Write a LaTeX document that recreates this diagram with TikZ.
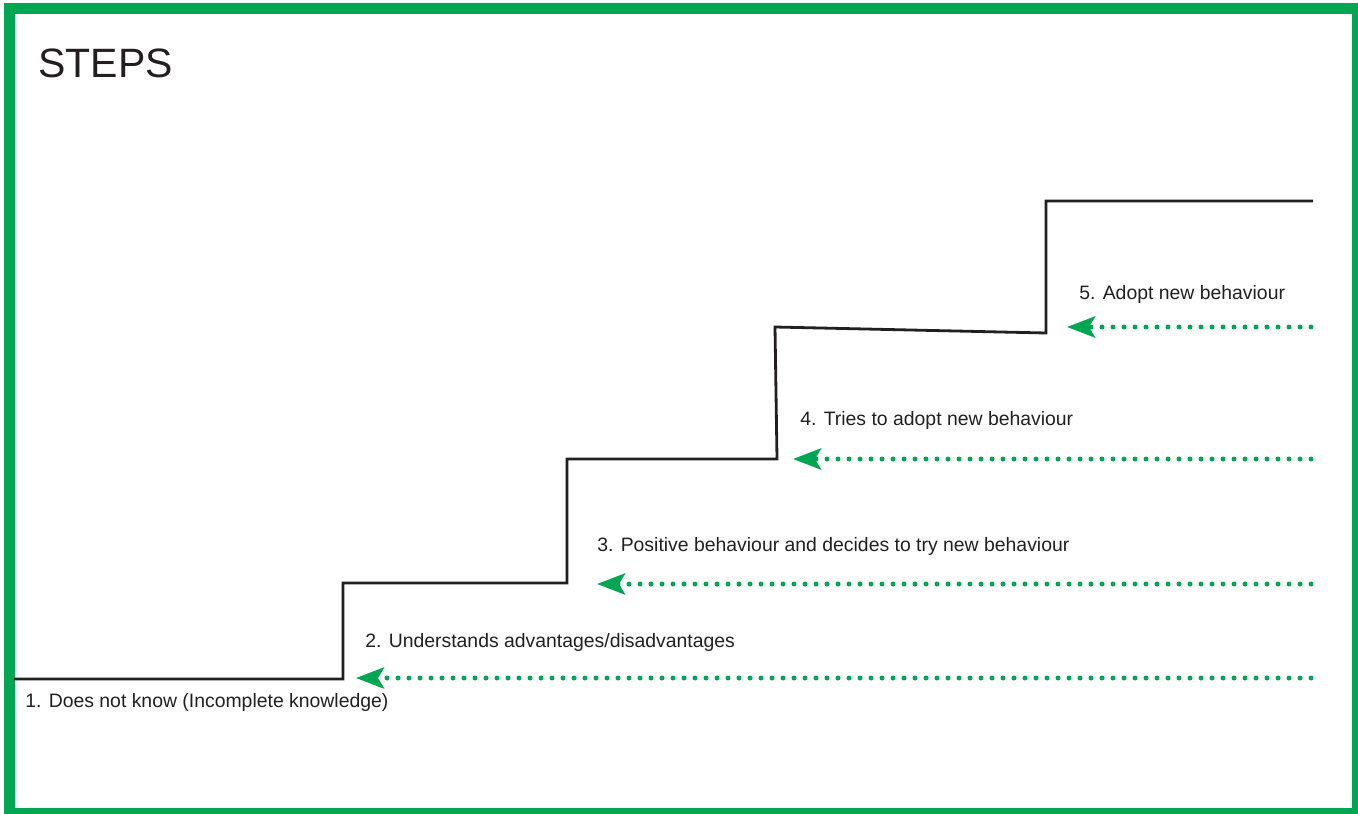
\documentclass[tikz,border=0pt]{standalone}
\usepackage{fontspec}
\setmainfont{Liberation Sans}
\usetikzlibrary{arrows.meta}
\definecolor{stepgreen}{RGB}{0,166,81}
\definecolor{steptext}{RGB}{35,31,32}

\begin{document}
\begin{tikzpicture}[x=0.5pt,y=-0.5pt,
  stairline/.style={steptext, line width=1.4pt},
  dotarrow/.style={stepgreen, line width=2.5pt, line cap=round, dash pattern=on 0pt off 5.5pt,
    -{Stealth[length=14pt,width=10.5pt,inset=3pt]}},
  steplabel/.style={anchor=base west, inner sep=0pt, text=steptext, font=\fontsize{9.7}{12}\selectfont}]
\useasboundingbox (0,0) rectangle (1358,813);
\draw[stepgreen, line width=5.5pt] (9.5,9) rectangle (1357.5,813.5);
\node[anchor=base west, inner sep=0pt, text=steptext, font=\fontsize{20.5}{24}\selectfont] (title) at (38,78) {STEPS};
% the stairs
\draw[stairline] (14,679) -- (343,679) -- (343,583) -- (567,583) -- (567,459) -- (777,459)
  -- (775,327) -- (1046,333) -- (1046,201) -- (1313,201);
% ends of the arrows
\coordinate (end2) at (1311,678);
\coordinate (tip2) at (356,678);
\coordinate (end3) at (1311,584);
\coordinate (tip3) at (597,584);
\coordinate (end4) at (1311,459);
\coordinate (tip4) at (793,459);
\coordinate (end5) at (1311,327);
\coordinate (tip5) at (1067,327);
\draw[dotarrow] (end2) -- (tip2);
\draw[dotarrow] (end3) -- (tip3);
\draw[dotarrow] (end4) -- (tip4);
\draw[dotarrow] (end5) -- (tip5);
% \fill[stepgreen] (1306,327) circle[radius=2.4pt];
\node[steplabel] (lab1) at (25,707) {1. Does not know (Incomplete knowledge)};
\node[steplabel] (lab2) at (365,647) {2. Understands advantages/disadvantages};
\node[steplabel] (lab3) at (597,551) {3. Positive behaviour and decides to try new behaviour};
\node[steplabel] (lab4) at (800,425) {4. Tries to adopt new behaviour};
\node[steplabel] (lab5) at (1079,299) {5. Adopt new behaviour};
\end{tikzpicture}
\end{document}
